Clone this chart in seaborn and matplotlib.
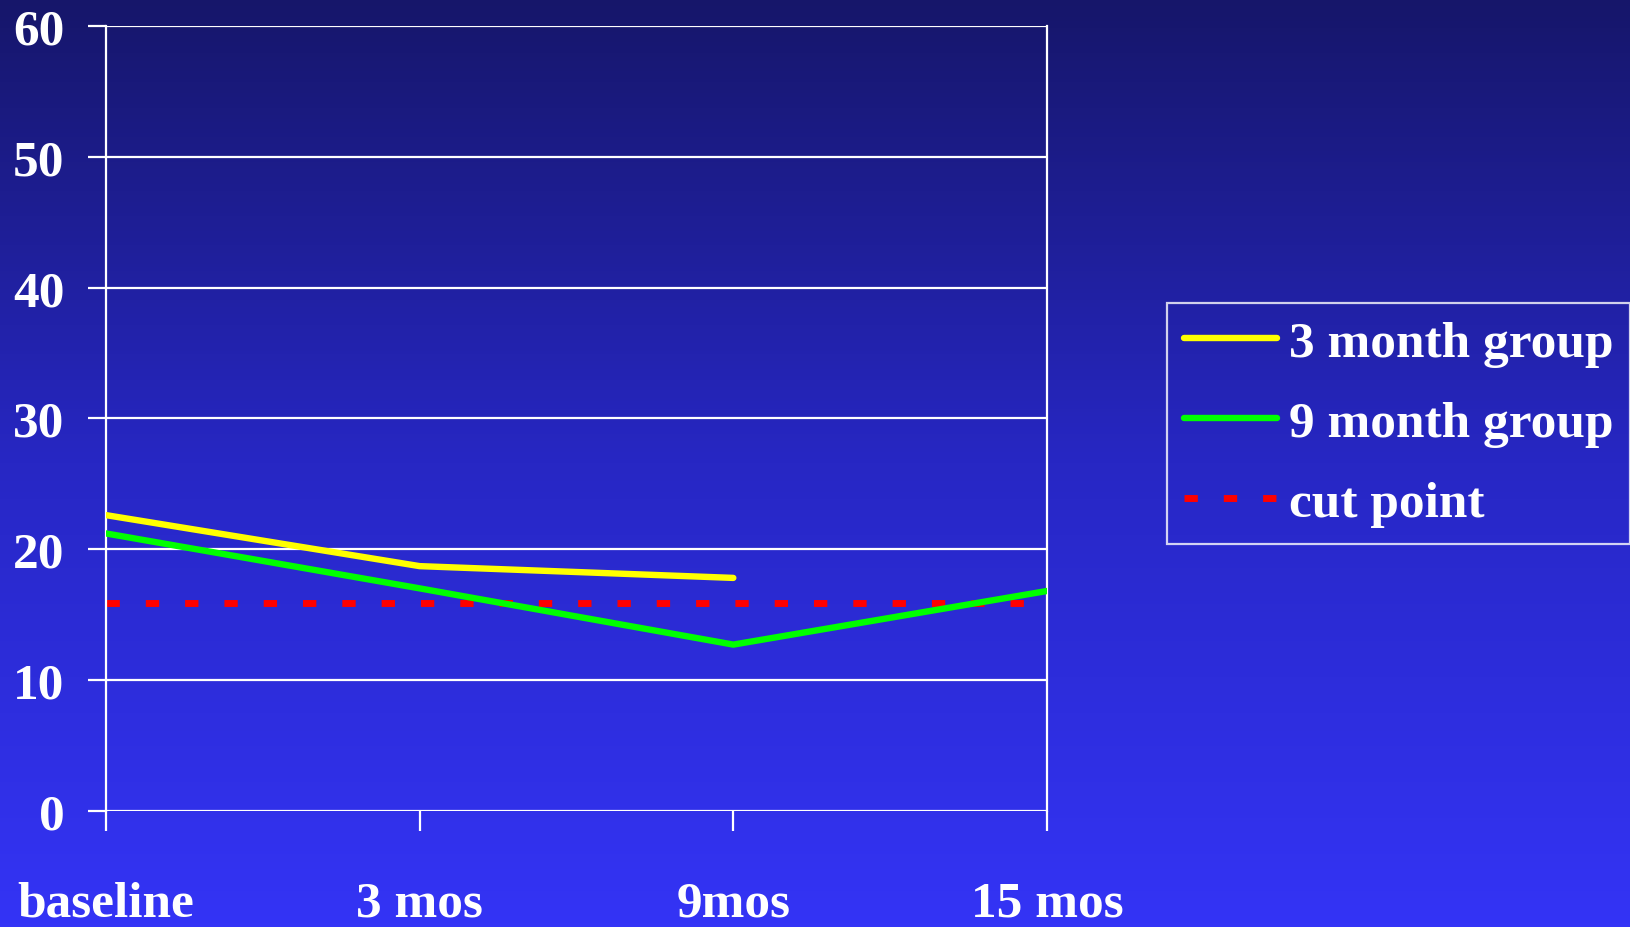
import numpy as np
import pandas as pd
import matplotlib
matplotlib.use("Agg")
import matplotlib.pyplot as plt
import seaborn as sns
from matplotlib.colors import LinearSegmentedColormap
from matplotlib.lines import Line2D

# ---- data ----
categories = ["baseline", "3 mos", "9mos", "15 mos"]
group_3_month = [22.6, 18.7, 17.8, np.nan]
group_9_month = [21.2, 17.0, 12.7, 16.8]
cut_point = [15.9, 15.9, 15.9, 15.9]
series_names = ["3 month group", "9 month group", "cut point"]
y_ticks = [0, 10, 20, 30, 40, 50, 60]

sns.set_theme(style="white")
plt.rcParams["font.family"] = ["Liberation Serif", "DejaVu Serif"]
plt.rcParams["font.weight"] = "bold"

W, H, DPI = 1631, 928, 100
FS = 37
fig = plt.figure(figsize=(W / DPI, H / DPI), dpi=DPI)

# background gradient
bg = fig.add_axes([0, 0, 1, 1], zorder=-10)
cmap = LinearSegmentedColormap.from_list("bg", ["#16166a", "#2727c4", "#3434f6"])
grad = np.linspace(0, 1, 256).reshape(-1, 1)
bg.imshow(grad, aspect="auto", cmap=cmap, extent=[0, 1, 0, 1], origin="upper")
bg.axis("off")

ax = fig.add_axes([106 / W, 1 - 811.7 / H, (1047 - 106) / W, (811.7 - 27) / H])
ax.set_facecolor("none")

df = pd.DataFrame({
    "x": categories * 3,
    "y": group_3_month + group_9_month + cut_point,
    "series": [series_names[0]] * 4 + [series_names[1]] * 4 + [series_names[2]] * 4,
})

palette = {series_names[0]: "#ffff00", series_names[1]: "#00ff00", series_names[2]: "#ff0000"}
sub = df[df.series != series_names[2]]
sns.lineplot(data=sub, x="x", y="y", hue="series", palette=palette, ax=ax,
             linewidth=4.6, solid_capstyle="round", sort=False, zorder=3, legend=False)
cut = df[df.series == series_names[2]]
sns.lineplot(data=cut, x="x", y="y", hue="series", palette=palette, ax=ax,
             linewidth=5.0, dashes=False, sort=False, zorder=2, legend=False,
             linestyle=(0, (1.92, 3.74)), dash_capstyle="butt")

ax.set_xlim(0, 3)
ax.set_ylim(0, 60)
ax.set_yticks(y_ticks)
ax.set_yticklabels([str(t) for t in y_ticks])
ax.set_xticks(range(len(categories)))
ax.set_xticklabels(categories)
ax.set_xlabel("")
ax.set_ylabel("")

ax.grid(axis="y", color="white", linewidth=1.6)
ax.grid(axis="x", visible=False)
for s in ["left", "right"]:
    ax.spines[s].set_color("white")
    ax.spines[s].set_linewidth(1.6)
for s in ["top", "bottom"]:
    ax.spines[s].set_visible(False)

ax.tick_params(axis="y", colors="white", length=13, width=1.6, pad=17,
               labelsize=FS, left=True, direction="out")
ax.tick_params(axis="x", colors="white", length=14.4, width=1.6, pad=36,
               labelsize=FS, bottom=True, direction="out")
for lbl in ax.get_xticklabels() + ax.get_yticklabels():
    lbl.set_fontweight("bold")
    lbl.set_color("white")

handles = [
    Line2D([], [], color=palette[series_names[0]], linewidth=4.6, solid_capstyle="round"),
    Line2D([], [], color=palette[series_names[1]], linewidth=4.6, solid_capstyle="round"),
    Line2D([], [], color=palette[series_names[2]], linewidth=5.0,
           linestyle=(0, (1.92, 3.74)), dash_capstyle="butt"),
]
leg = fig.legend(handles, series_names, loc="upper left",
                 bbox_to_anchor=(1167 / W, 1 - 304 / H), borderaxespad=0,
                 frameon=True, handlelength=1.81,
                 handletextpad=0.23, borderpad=0.33, labelspacing=0.64,
                 prop={"family": "Liberation Serif", "weight": "bold", "size": FS})
leg.get_frame().set_facecolor("none")
leg.get_frame().set_edgecolor("white")
leg.get_frame().set_linewidth(1.6)
leg.get_frame().set_boxstyle("square", pad=0)
for t in leg.get_texts():
    t.set_color("white")

fig.savefig("out.png", dpi=DPI)
